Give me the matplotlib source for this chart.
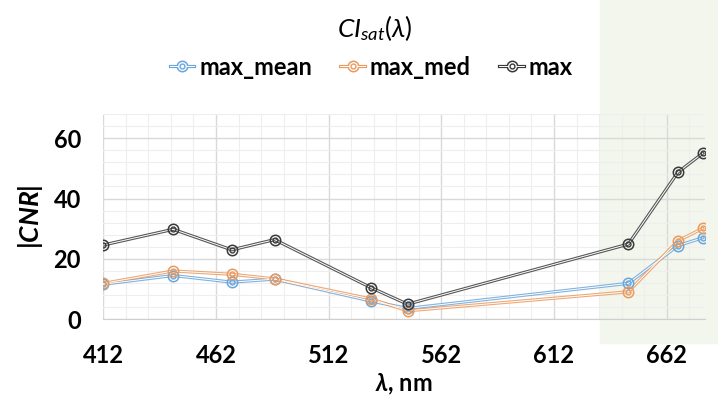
import matplotlib
matplotlib.use('Agg')
import matplotlib.pyplot as plt
from matplotlib.lines import Line2D
from matplotlib.patches import Rectangle
from matplotlib.legend_handler import HandlerTuple
from matplotlib.ticker import MultipleLocator, FixedLocator

plt.rcParams['font.family'] = ['Lato', 'DejaVu Sans']
plt.rcParams['mathtext.fontset'] = 'custom'
plt.rcParams['mathtext.rm'] = 'Lato'
plt.rcParams['mathtext.it'] = 'Lato:italic'
plt.rcParams['mathtext.bf'] = 'Lato:bold'
plt.rcParams['mathtext.bfit'] = 'Lato:italic:bold'

# Wavelengths (nm) and |CNR| for each statistic
wavelength = [412, 443, 469, 488, 531, 547, 645, 667, 678]
max_mean = [11.6, 14.5, 12.3, 13.3, 6.0, 3.6, 11.9, 24.4, 27.0]
max_med = [11.9, 16.0, 14.9, 13.4, 6.7, 2.8, 9.1, 26.0, 30.1]
max_all = [24.6, 29.8, 23.0, 26.4, 10.4, 5.0, 24.9, 48.7, 55.0]

series_names = ['max_mean', 'max_med', 'max']
x_ticks = [412, 462, 512, 562, 612, 662]
y_ticks = [0, 20, 40, 60]

colors = ['#6aa6dc', '#eb9a5e', '#3a3a3a']

fig = plt.figure(figsize=(7.18, 4.04), dpi=100)
ax = fig.add_axes([0.1439, 0.2097, 0.8380, 0.5081])
ax.patch.set_alpha(0)

# light green panel on the right side of the figure
fig.add_artist(Rectangle((600 / 718, 0.151), 1 - 600 / 718, 0.849,
                         transform=fig.transFigure, color='#f2f6ec',
                         zorder=-1))

handles = []
for name, vals, c in zip(series_names, [max_mean, max_med, max_all], colors):
    ax.plot(wavelength, vals, color=c, lw=2.3, alpha=0.85, zorder=3)
    ax.plot(wavelength, vals, color='white', lw=0.7, zorder=3.5)
    ax.plot(wavelength, vals, ls='none', marker='o', ms=7.5, mfc='none',
            mec=c, mew=1.1, zorder=4)
    ax.plot(wavelength, vals, ls='none', marker='o', ms=3.5, mfc='none',
            mec=c, mew=1.0, zorder=4)
    outer = Line2D([], [], color=c, lw=2.3, marker='o', ms=7.5, mfc='white',
                   mec=c, mew=1.1)
    inner_line = Line2D([], [], color='white', lw=0.7)
    inner = Line2D([], [], ls='none', marker='o', ms=3.5, mfc='none',
                   mec=c, mew=1.0)
    handles.append((outer, inner_line, inner))

ax.set_xlim(412, 679)
ax.set_ylim(0, 68)
ax.xaxis.set_major_locator(FixedLocator(x_ticks))
ax.xaxis.set_minor_locator(FixedLocator(list(range(412, 680, 10))))
ax.yaxis.set_major_locator(FixedLocator(y_ticks))
ax.yaxis.set_minor_locator(MultipleLocator(4))

ax.grid(which='major', color='#d9d9d9', lw=1.0)
ax.grid(which='minor', color='#eeeeee', lw=0.8)
ax.set_axisbelow(True)
for s in ['top', 'right', 'left']:
    ax.spines[s].set_visible(False)
ax.spines['bottom'].set_color('#cfcfcf')
ax.tick_params(which='both', length=0)
ax.tick_params(axis='x', pad=18, labelsize=17)
ax.tick_params(axis='y', pad=16, labelsize=17)
for lab in ax.get_xticklabels() + ax.get_yticklabels():
    lab.set_fontweight('bold')

ax.set_xlabel(r'$\mathbfit{\lambda}$, nm', fontsize=17, fontweight='bold',
              labelpad=3)
ax.set_ylabel(r'$\mathbf{|}\mathbfit{CNR}\mathbf{|}$', fontsize=19,
              fontweight='bold', labelpad=6)

fig.text(0.522, 0.93, r'$\mathit{CI}_{\mathit{sat}}(\lambda)$', fontsize=19,
         ha='center', va='center')

fig.legend(handles, series_names, loc='center', ncol=3,
           bbox_to_anchor=(0.517, 0.834), frameon=False,
           prop={'weight': 'bold', 'size': 17}, handlelength=1.05,
           handletextpad=0.2, columnspacing=1.2,
           handler_map={tuple: HandlerTuple(ndivide=1)})

fig.savefig('out.png', dpi=100)
